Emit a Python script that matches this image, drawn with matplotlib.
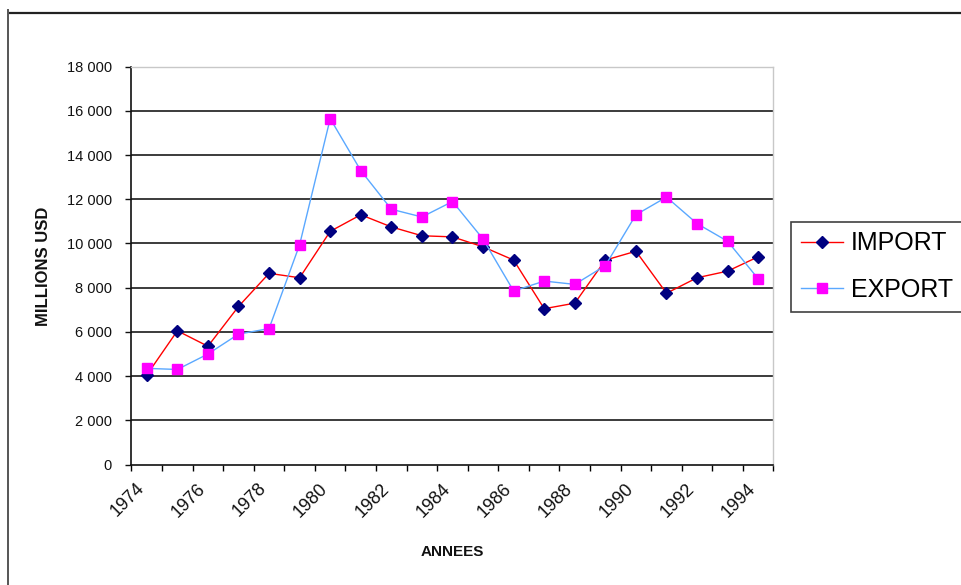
import matplotlib
matplotlib.use("Agg")
import matplotlib.pyplot as plt
from matplotlib.lines import Line2D
from matplotlib.transforms import ScaledTranslation
from matplotlib.ticker import FuncFormatter, FixedLocator

plt.rcParams['font.family'] = ['Liberation Sans', 'DejaVu Sans']

years = list(range(1974, 1995))
imports = [4050, 6050, 5350, 7150, 8650, 8450, 10550, 11300, 10750, 10350, 10300,
           9850, 9250, 7050, 7300, 9250, 9650, 7750, 8450, 8750, 9400]
exports = [4350, 4300, 5000, 5900, 6150, 9950, 15650, 13300, 11550, 11200, 11900,
           10200, 7850, 8300, 8150, 9000, 11300, 12100, 10900, 10100, 8400]
y_ticks = [0, 2000, 4000, 6000, 8000, 10000, 12000, 14000, 16000, 18000]
x_labels = [str(y) if (y - 1974) % 2 == 0 else "" for y in years]

fig = plt.figure(figsize=(9.62, 5.85), dpi=100)
ax = fig.add_axes([131.5 / 962, 1 - 464.5 / 585, 642 / 962, 397.8 / 585])

pos = list(range(len(years)))

# horizontal gridlines (inner values only; the frame edges are styled separately)
for v in y_ticks[1:-1]:
    ax.axhline(v, color='#1a1a1a', lw=1.2, zorder=1)

ax.plot(pos, imports, color='#ff0000', lw=1.0, marker='D', ms=6.2,
        mfc='#000080', mec='#000080', zorder=3, label='IMPORT')
ax.plot(pos, exports, color='#5aa8ff', lw=1.0, marker='s', ms=6.5,
        mfc='#ff00ff', mec='#ff00ff', zorder=4, label='EXPORT')

ax.set_xlim(-0.5, len(years) - 0.5)
ax.set_ylim(y_ticks[0], y_ticks[-1])

ax.set_yticks(y_ticks)
ax.yaxis.set_major_formatter(FuncFormatter(lambda v, p: f"{int(v):,}".replace(",", " ")))
ax.tick_params(axis='y', direction='out', length=4.5, width=1, pad=9.5,
               labelsize=10.5, colors='#111111')

# category boundaries carry the tick marks, category centres carry the labels
ax.xaxis.set_minor_locator(FixedLocator([p - 0.5 for p in range(len(years) + 1)]))
ax.set_xticks(pos)
ax.set_xticklabels(x_labels, rotation=45, ha='right', va='center',
                   rotation_mode='anchor', fontsize=13, color='#111111')
ax.tick_params(axis='x', which='major', length=0, pad=15.5)
ax.tick_params(axis='x', which='minor', direction='out', length=4.5, width=1)
shift = ScaledTranslation(-5 / 100, 0, fig.dpi_scale_trans)
for lbl in ax.get_xticklabels():
    lbl.set_transform(lbl.get_transform() + shift)

for side in ('left', 'bottom'):
    ax.spines[side].set_color('#111111')
    ax.spines[side].set_linewidth(1.2)
for side in ('top', 'right'):
    ax.spines[side].set_color('#c8c8c8')
    ax.spines[side].set_linewidth(1.0)

fig.text(452 / 962, 1 - 551.5 / 585, 'ANNEES', fontsize=11, fontweight='bold',
         ha='center', va='center', color='#111111')
fig.text(44 / 962, 1 - 266 / 585, 'MILLIONS USD', fontsize=12, fontweight='bold',
         rotation=90, ha='center', va='center', color='#111111')

leg = ax.legend(loc='upper left', bbox_to_anchor=(791 / 962, 1 - 221.5 / 585),
                bbox_transform=fig.transFigure, borderaxespad=0, fontsize=18,
                frameon=True, fancybox=False, edgecolor='#111111',
                borderpad=0.4, handlelength=1.7, handletextpad=0.3,
                labelspacing=0.9)
leg.get_frame().set_linewidth(1.2)

# outer frame of the chart area
fig.add_artist(Line2D([10 / 962, 1], [1 - 13 / 585, 1 - 13 / 585],
                      transform=fig.transFigure, color='#222222', lw=1.6))
fig.add_artist(Line2D([8 / 962, 8 / 962], [0, 1 - 10 / 585],
                      transform=fig.transFigure, color='#555555', lw=1.4))

fig.savefig('out.png', dpi=100)
